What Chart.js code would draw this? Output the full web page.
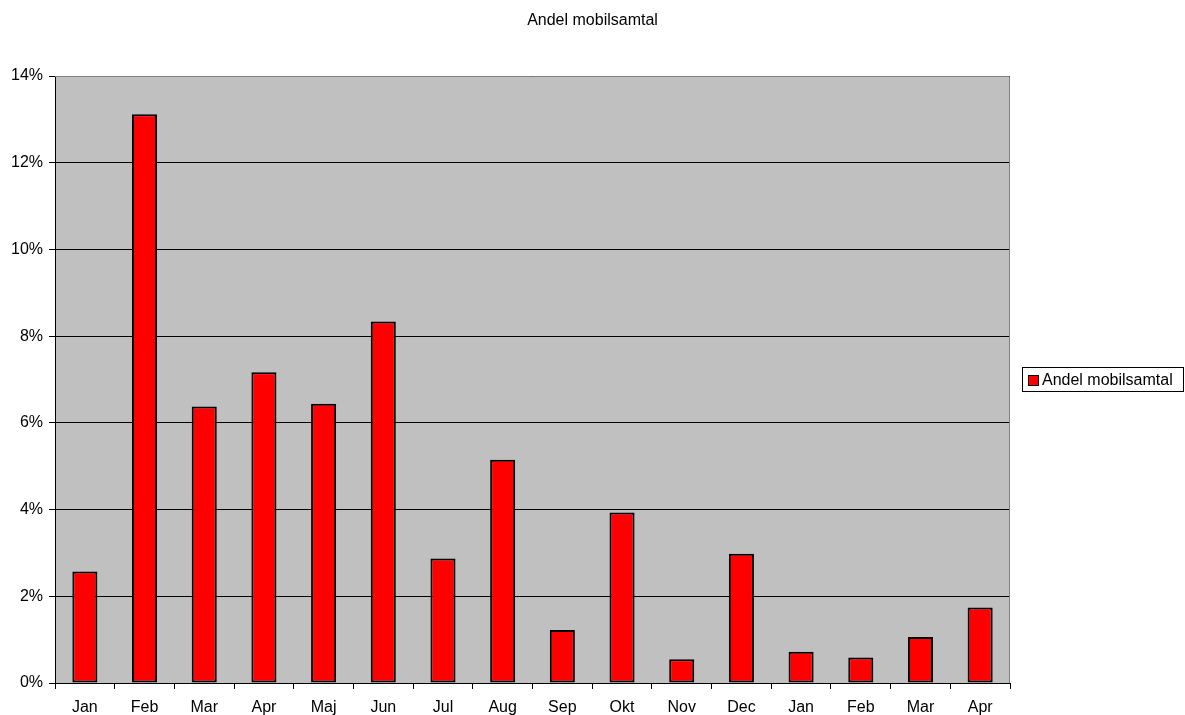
<!DOCTYPE html>
<html>
<head>
<meta charset="utf-8">
<script src="https://cdn.jsdelivr.net/npm/chart.js@4/dist/chart.umd.min.js"></script>
<style>
  html, body { margin: 0; padding: 0; background: #fff; }
  #wrap { width: 1185px; height: 715px; }
</style>
</head>
<body>
<div id="wrap"><canvas id="c" width="1185" height="715"></canvas></div>
<script>
const months = ['Jan','Feb','Mar','Apr','Maj','Jun','Jul','Aug','Sep','Okt','Nov','Dec','Jan','Feb','Mar','Apr'];
const shareMobile = [2.57, 13.12, 6.38, 7.17, 6.44, 8.34, 2.87, 5.15, 1.22, 3.93, 0.55, 2.98, 0.72, 0.59, 1.06, 1.74];
const seriesName = 'Andel mobilsamtal';
const chartTitle = 'Andel mobilsamtal';

const FONT = '"Liberation Sans", Arial, sans-serif';
const FONT_SIZE = 16;

// grey plot background plus grey frame on top/right
const plotFrame = {
  id: 'plotFrame',
  beforeDraw(chart) {
    const { ctx, chartArea: a } = chart;
    ctx.save();
    ctx.fillStyle = '#C0C0C0';
    ctx.fillRect(a.left, a.top, a.right - a.left, a.bottom - a.top);
    ctx.restore();
  },
  afterDraw(chart) {
    const { ctx, chartArea: a } = chart;
    ctx.save();
    ctx.strokeStyle = '#808080';
    ctx.lineWidth = 1;
    ctx.beginPath();
    ctx.moveTo(a.left, a.top + 0.5);
    ctx.lineTo(a.right - 0.5, a.top + 0.5);
    ctx.lineTo(a.right - 0.5, a.bottom);
    ctx.stroke();
    ctx.restore();
  }
};

// title centred over the whole canvas, boxed legend at the right side
const headerAndLegend = {
  id: 'headerAndLegend',
  afterDraw(chart) {
    const { ctx, width } = chart;
    const ds = chart.data.datasets[0];
    ctx.save();
    ctx.fillStyle = '#000';
    ctx.font = FONT_SIZE + 'px ' + FONT;
    ctx.textAlign = 'center';
    ctx.textBaseline = 'middle';
    ctx.fillText(chartTitle, width / 2, 21);

    const x = 1022.5, y = 367.5, w = 161, h = 24;
    ctx.fillStyle = '#fff';
    ctx.fillRect(x, y, w, h);
    ctx.strokeStyle = '#000';
    ctx.lineWidth = 1;
    ctx.strokeRect(x, y, w, h);
    ctx.fillStyle = ds.backgroundColor;
    ctx.fillRect(x + 6, y + 8, 10, 10);
    ctx.strokeRect(x + 6, y + 8, 10, 10);
    ctx.fillStyle = '#000';
    ctx.textAlign = 'left';
    ctx.fillText(ds.label, x + 19.5, y + h / 2 + 1);
    ctx.restore();
  }
};

new Chart(document.getElementById('c'), {
  type: 'bar',
  data: {
    labels: months,
    datasets: [{
      label: seriesName,
      data: shareMobile,
      backgroundColor: '#FF0000',
      borderColor: '#000000',
      borderWidth: 2,
      borderSkipped: false,
      categoryPercentage: 0.42,
      barPercentage: 1.0
    }]
  },
  options: {
    responsive: false,
    animation: false,
    devicePixelRatio: 1,
    layout: { padding: { left: 5, right: 175, top: 76, bottom: -12 } },
    plugins: {
      legend: { display: false },
      tooltip: { enabled: false },
      title: { display: false }
    },
    scales: {
      x: {
        offset: true,
        grid: {
          offset: true,
          drawOnChartArea: false,
          drawTicks: true,
          tickLength: 6,
          color: '#000'
        },
        border: { color: '#000', width: 1 },
        ticks: {
          color: '#000',
          font: { family: FONT, size: FONT_SIZE, lineHeight: 1.0 },
          padding: 11,
          maxRotation: 0,
          autoSkip: false
        }
      },
      y: {
        min: 0,
        max: 14,
        grid: { color: '#000', lineWidth: 1, tickLength: 6, drawTicks: true },
        border: { color: '#000', width: 1 },
        ticks: {
          stepSize: 2,
          color: '#000',
          font: { family: FONT, size: FONT_SIZE },
          padding: 6,
          callback: v => v + '%'
        }
      }
    }
  },
  plugins: [plotFrame, headerAndLegend]
});
</script>
</body>
</html>
